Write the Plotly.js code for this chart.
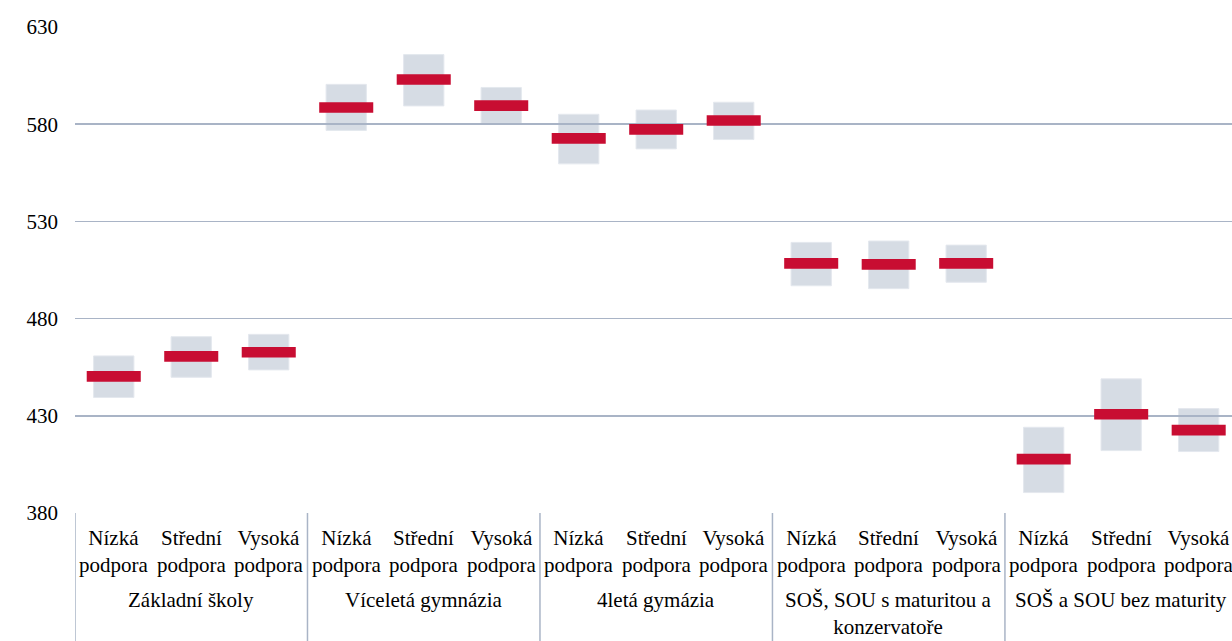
<!DOCTYPE html>
<html>
<head>
<meta charset="utf-8">
<script src="https://cdn.plot.ly/plotly-3.0.1.min.js"></script>
<style>html,body{margin:0;padding:0;background:#fff;}#chart{width:1232px;height:641px;}</style>
</head>
<body>
<div id="chart"></div>
<script>
// Data
const groups = ["Základní školy", "Víceletá gymnázia", "4letá gymázia", "SOŠ, SOU s maturitou a<br>konzervatoře", "SOŠ a SOU bez maturity"];
const levels = ["Nízká<br>podpora", "Střední<br>podpora", "Vysoká<br>podpora"];
const means = [450.3, 460.6, 462.7, 588.6, 603.0, 589.6, 572.7, 577.3, 581.9, 508.4, 507.9, 508.4, 407.7, 430.8, 422.6];
const lows  = [439.4, 449.8, 453.6, 576.8, 589.4, 580.4, 559.6, 567.3, 572.1, 496.9, 495.4, 498.7, 390.5, 412.1, 411.6];
const highs = [460.8, 470.7, 471.9, 600.5, 615.8, 598.9, 585.1, 587.3, 591.3, 519.2, 519.9, 517.8, 424.1, 449.0, 433.7];
const yTicks = [380, 430, 480, 530, 580, 630];

const n = means.length;
const xs = means.map((_, i) => i);
const nL = levels.length;

const font = "Liberation Serif";
const fs = 21;
const gridColor = "#a9b4c6";

const gray = {
  type: "bar", x: xs, base: lows, y: highs.map((h, i) => h - lows[i]),
  xaxis: "x", yaxis: "y",
  width: 0.52, marker: {color: "#d6dce4", line: {color: "#e4e8ee", width: 1}},
  hoverinfo: "skip", showlegend: false
};
const red = {
  type: "scatter", mode: "markers", x: xs, y: means,
  xaxis: "x2", yaxis: "y2",
  marker: {symbol: "line-ew", size: 38.6, color: "#c80d32", line: {color: "#c80d32", width: 10.7}},
  showlegend: false, cliponaxis: false
};

const shapes = [];
for (let g = 0; g < groups.length; g++) {
  shapes.push({type: "line", xref: "x", yref: "paper", x0: g * nL - 0.5, x1: g * nL - 0.5, y0: 0, y1: -0.27,
    line: {color: gridColor, width: 1.5}});
}
const annotations = [];
for (let i = 0; i < n; i++) {
  annotations.push({xref: "x", yref: "paper", x: i, y: 0, yanchor: "top", yshift: -11, showarrow: false,
    text: levels[i % nL], font: {family: font, size: fs, color: "#000"}, align: "center"});
}
for (let g = 0; g < groups.length; g++) {
  annotations.push({xref: "x", yref: "paper", x: g * nL + (nL - 1) / 2, y: 0, yanchor: "top", yshift: -73, showarrow: false,
    text: groups[g], font: {family: font, size: fs, color: "#000"}, align: "center"});
}

const xRange = [-0.5, n - 0.57];
const yRange = [380, 630];
const layout = {
  width: 1232, height: 641,
  margin: {l: 75, r: 0, t: 27, b: 128},
  paper_bgcolor: "#fff", plot_bgcolor: "rgba(0,0,0,0)",
  font: {family: font, size: fs, color: "#000"},
  xaxis: {range: xRange, showticklabels: false, showgrid: false, zeroline: false, showline: false, fixedrange: true},
  yaxis: {range: yRange, showgrid: false, showticklabels: false, zeroline: false, showline: false, ticks: ""},
  xaxis2: {range: xRange, anchor: "y2", showticklabels: false, showgrid: false, zeroline: false, showline: false},
  yaxis2: {range: yRange, anchor: "x2", tickvals: yTicks, ticktext: yTicks.map(String), showgrid: true, gridcolor: gridColor, gridwidth: 1.5,
    zeroline: false, showline: false, ticks: "", ticklabelstandoff: 16, tickfont: {family: font, size: 21, color: "#000"}},
  shapes: shapes, annotations: annotations,
  bargap: 0, showlegend: false
};

Plotly.newPlot("chart", [gray, red], layout, {displayModeBar: false, staticPlot: true});
</script>
</body>
</html>
